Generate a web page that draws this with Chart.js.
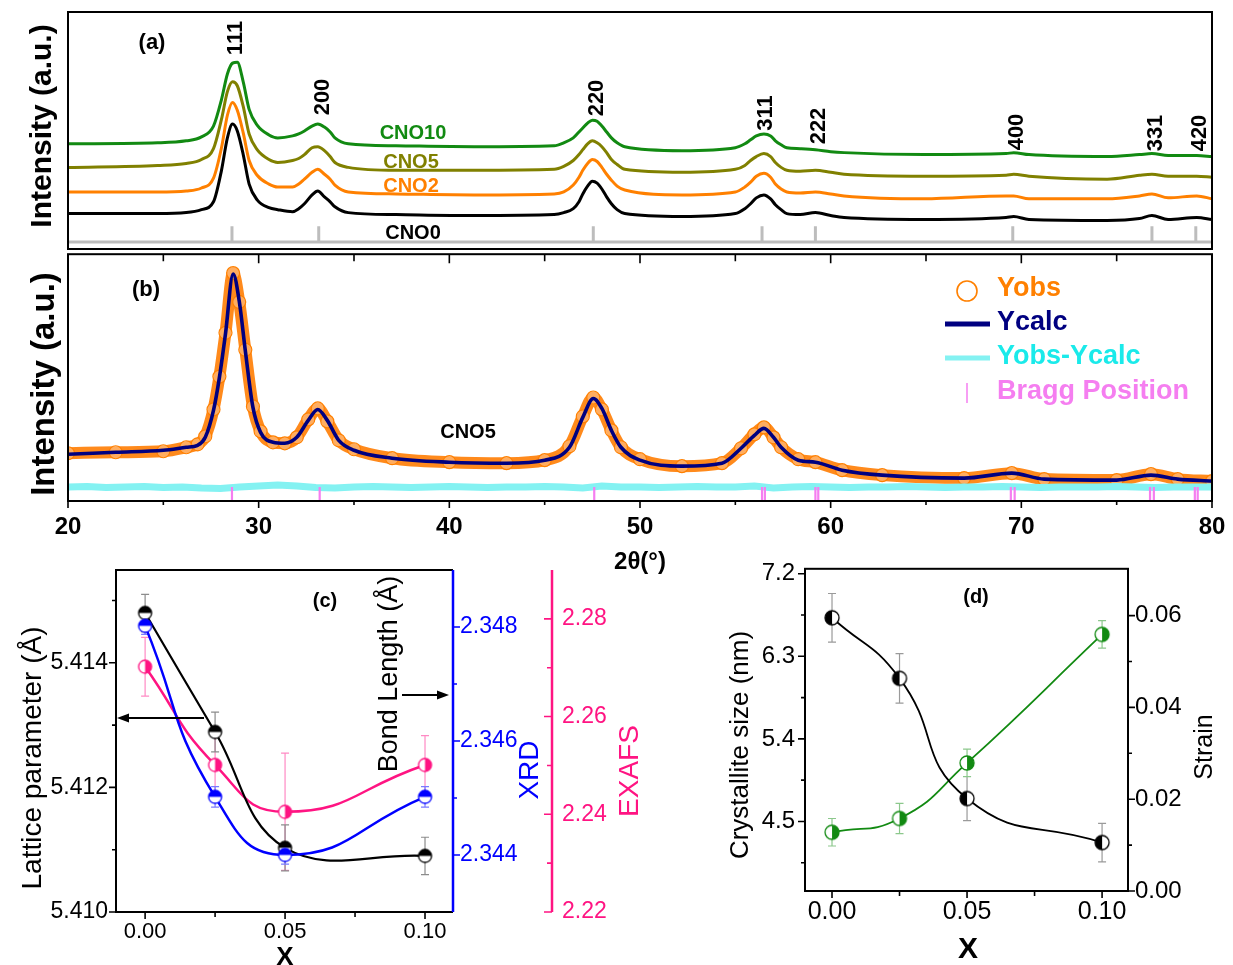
<!DOCTYPE html>
<html>
<head>
<meta charset="utf-8">
<title>CNO XRD / bond length / crystallite size</title>
<script src="https://cdn.jsdelivr.net/npm/chart.js@4.4.1/dist/chart.umd.min.js"></script>
<style>
  html, body { margin: 0; padding: 0; background: #fff; }
  #page { position: relative; width: 1233px; height: 965px; overflow: hidden; background: #fff; }
  #page canvas { position: absolute; }
</style>
</head>
<body>
<div id="page">
  <canvas id="cA" width="1233" height="260" style="left:0px;top:0px"></canvas>
  <canvas id="cB" width="1233" height="335" style="left:0px;top:245px"></canvas>
  <canvas id="cC" width="700" height="405" style="left:0px;top:560px"></canvas>
  <canvas id="cD" width="533" height="405" style="left:700px;top:560px"></canvas>
</div>
<script>
// ---------- (a) stacked XRD patterns (intensity, a.u.) ----------
const twoThetaA = [20, 24.7, 26.2, 27.0, 27.63, 28.05, 28.36, 28.63, 28.88, 29.19,
  29.5, 29.92, 30.54, 31.0, 31.78, 32.1, 32.4, 32.8, 33.1, 33.45,
  33.75, 34.0, 34.7, 37.2, 41.3, 45.5, 46.0, 46.5, 46.8, 47.0,
  47.25, 47.5, 47.75, 48.0, 48.25, 48.5, 48.8, 49.2, 52.2, 55.0,
  55.5, 55.8, 56.1, 56.5, 56.85, 57.1, 57.4, 57.7, 58.4, 59.2,
  60.0, 60.7, 64.9, 69.2, 69.6, 70.4, 74.5, 76.2, 76.85, 77.7,
  79.2, 80];
const cno0 = [36, 36, 37, 40, 48, 80, 113, 127, 120, 96,
  66, 50, 42, 40, 38, 41, 46, 55, 59, 53,
  48, 43, 37, 35, 34, 35, 37, 41, 48, 56,
  64, 69, 67, 61, 53, 46, 40, 36, 33, 36,
  41, 46, 52, 55, 51, 45, 40, 36, 35, 37,
  34, 32, 30, 32, 33, 30, 29, 31, 34, 30,
  32, 30];
const cno2 = [58, 58, 59, 62, 72, 103, 136, 149, 141, 118,
  90, 75, 66, 63, 63, 66, 71, 78, 81, 76,
  71, 65, 58, 56, 55, 56, 58, 65, 73, 80,
  87, 91, 89, 83, 76, 70, 64, 60, 55, 58,
  63, 68, 74, 77, 73, 66, 61, 58, 57, 58,
  56, 54, 51, 54, 54, 51, 51, 54, 56, 52,
  54, 51];
const cno5 = [83, 85, 87, 91, 102, 132, 160, 170, 166, 145,
  117, 101, 91, 88, 90, 92, 96, 103, 104, 100,
  94, 88, 83, 80, 80, 81, 84, 90, 96, 101,
  107, 110, 108, 104, 98, 91, 86, 81, 78, 81,
  85, 90, 94, 97, 94, 88, 83, 80, 79, 80,
  78, 76, 74, 75, 76, 74, 71, 75, 76, 74,
  74, 73];
const cno10 = [107, 108, 110, 114, 125, 152, 178, 189, 190, 170,
  142, 126, 116, 113, 115, 117, 120, 125, 127, 124,
  119, 113, 107, 105, 104, 105, 108, 113, 119, 123,
  128, 131, 130, 125, 119, 113, 108, 104, 100, 103,
  107, 111, 115, 117, 115, 110, 106, 103, 102, 101,
  99, 98, 96, 97, 98, 96, 94, 96, 97, 95,
  95, 94];
const braggA = [28.6, 33.15, 47.55, 56.4, 59.2, 69.55, 76.85, 79.15];
const hklLabels = ['111', '200', '220', '311', '222', '400', '331', '420'];
const sampleNames = ['CNO0', 'CNO2', 'CNO5', 'CNO10'];

// ---------- (b) Rietveld fit of CNO5 ----------
const twoThetaB = [20, 22.5, 25, 26.2, 26.8, 27.2, 27.63, 27.94, 28.26, 28.66,
  28.98, 29.3, 29.7, 30.1, 30.75, 31.37, 32.0, 32.6, 33.1, 33.6,
  34.2, 35, 37, 40, 43, 45, 46.3, 47.0, 47.55, 48.0,
  48.5, 49.0, 50, 52.2, 54.3, 55.3, 56.0, 56.5, 57.0, 57.4,
  58.3, 59.2, 60.6, 62.7, 67.0, 69.5, 71.2, 75.0, 76.8, 78.2,
  80];
const yCalc = [47, 49, 51, 54, 56, 64, 91, 124, 168, 228,
  201, 151, 94, 69, 59, 58, 64, 81, 92, 81,
  61, 51, 43, 39, 38, 41, 54, 84, 103, 93,
  71, 54, 41, 35, 38, 53, 66, 73, 64, 54,
  41, 39, 31, 26, 23, 28, 22, 21, 26, 22,
  20];
const yObs = [48, 49, 50, 54, 57, 65, 92, 125, 169, 229,
  200, 152, 95, 70, 59, 58, 64, 82, 93, 80,
  61, 52, 43, 39, 38, 41, 55, 85, 104, 92,
  71, 54, 42, 35, 38, 53, 67, 74, 64, 54,
  42, 39, 31, 26, 23, 28, 22, 21, 27, 22,
  20];
const diffTheta = [20, 21, 22, 23, 24, 25, 26, 27, 28, 29, 30, 31, 32, 33, 34, 35, 36, 37, 38, 39, 40,
  41, 42, 43, 44, 45, 46, 47, 48, 49, 50, 51, 52, 53, 54, 55, 56, 57, 58, 59, 60,
  61, 62, 63, 64, 65, 66, 67, 68, 69, 70, 71, 72, 73, 74, 75, 76, 77, 78, 79, 80];
const yDiff = [14, 14.5, 13.5, 14, 14.5, 13.5, 14, 13, 12.5, 14, 15, 16, 15, 13.5, 13, 14, 14.5, 14, 13.5, 14, 14.5,
  14, 13.5, 14, 14, 14.5, 14, 13, 15, 14, 14, 13.5, 14, 14.5, 14, 14, 15, 13, 14, 14.5, 14,
  13.5, 14, 14, 14.5, 14, 13.5, 14, 14, 14.5, 14, 13.5, 14, 14, 14, 14.5, 14, 13.5, 14, 14, 14];
const braggB = [28.6, 33.2, 47.6, 56.4, 56.55, 59.2, 59.35, 69.45, 69.65, 76.75, 76.95, 79.1, 79.25];
const ticksB = [20, 30, 40, 50, 60, 70, 80];
const minorB = [25, 35, 45, 55, 65, 75];

// ---------- (c) lattice parameter and bond length ----------
const xC = [0, 0.025, 0.05, 0.10];
const latticeParam = [5.4148, 5.41289, 5.41103, 5.4109];
const latticeErr = [0.0003, 0.00032, 0.00037, 0.0003];
const bondXRD = [2.34802, 2.34502, 2.34400, 2.34502];
const bondXRDErr = [0.00015, 0.00018, 0.00016, 0.00018];
const bondEXAFS = [2.2702, 2.2501, 2.2405, 2.2501];
const bondEXAFSErr = [0.006, 0.006, 0.012, 0.006];
const ticksCX = [0, 0.05, 0.10];
const minorCX = [0.025, 0.075];
const ticksLattice = [5.410, 5.412, 5.414];
const minorLattice = [5.411, 5.413, 5.415];
const ticksXRD = [2.344, 2.346, 2.348];
const minorXRD = [2.345, 2.347];
const ticksEXAFS = [2.22, 2.24, 2.26, 2.28];
const minorEXAFS = [2.23, 2.25, 2.27];

// ---------- (d) crystallite size and strain ----------
const xD = [0, 0.025, 0.05, 0.10];
const crystalliteSize = [6.72, 6.06, 4.75, 4.27];
const sizeErr = [0.265, 0.27, 0.24, 0.21];
const strain = [0.0128, 0.0158, 0.0279, 0.0559];
const strainErr = [0.003, 0.0033, 0.003, 0.003];
const ticksDX = [0, 0.05, 0.10];
const minorDX = [0.025, 0.075];
const ticksSize = [4.5, 5.4, 6.3, 7.2];
const minorSize = [4.05, 4.95, 5.85, 6.75];
const ticksStrain = [0, 0.02, 0.04, 0.06];
const minorStrain = [0.01, 0.03, 0.05];

// ---------- shared helpers ----------
const FONT = "'Liberation Sans', Arial, Helvetica, sans-serif";
const GREEN = '#128a12', OLIVE = '#808000', ORANGE = '#ff8000', NAVY = '#000080';
const BLUE = '#0000ff', PINK = '#ff1482', VIOLET = '#f57ef0', CYAN = '#84f2f2';

Chart.defaults.font.family = FONT;
Chart.defaults.color = '#000';
Chart.defaults.animation = false;
Chart.defaults.plugins.legend.display = false;
Chart.defaults.plugins.tooltip.enabled = false;

const pts = (xs, ys) => xs.map((x, i) => ({ x: x, y: ys[i] }));
const setTicks = vals => s => { s.ticks = vals.map(v => ({ value: v })); };
const noPad = s => { s.paddingTop = 0; s.paddingBottom = 0; s.paddingLeft = 0; s.paddingRight = 0; };
const fixWidth = w => s => { s.width = w; noPad(s); };
const fixHeight = h => s => { s.height = h; noPad(s); };

function text(ctx, str, x, y, font, color, vertical, align) {
  ctx.save();
  ctx.font = font;
  ctx.fillStyle = color;
  ctx.textAlign = align || 'center';
  ctx.textBaseline = 'middle';
  ctx.translate(x, y);
  if (vertical) ctx.rotate(-Math.PI / 2);
  ctx.fillText(str, 0, 0);
  ctx.restore();
}

function xTicks(ctx, scale, values, y, len, color) {
  ctx.save();
  ctx.strokeStyle = color; ctx.lineWidth = 1.6;
  ctx.beginPath();
  values.forEach(v => { const x = scale.getPixelForValue(v); ctx.moveTo(x, y); ctx.lineTo(x, y + len); });
  ctx.stroke();
  ctx.restore();
}

function yTicks(ctx, scale, values, x, len, color) {
  ctx.save();
  ctx.strokeStyle = color; ctx.lineWidth = 1.6;
  ctx.beginPath();
  values.forEach(v => { const y = scale.getPixelForValue(v); ctx.moveTo(x, y); ctx.lineTo(x + len, y); });
  ctx.stroke();
  ctx.restore();
}

function errorBars(ctx, xs, ys, errs, xs_, ys_, color) {
  ctx.save();
  ctx.strokeStyle = color; ctx.lineWidth = 1.2;
  xs.forEach((xv, i) => {
    const px = xs_.getPixelForValue(xv);
    const top = ys_.getPixelForValue(ys[i] + errs[i]);
    const bot = ys_.getPixelForValue(ys[i] - errs[i]);
    ctx.beginPath();
    ctx.moveTo(px, top); ctx.lineTo(px, bot);
    ctx.moveTo(px - 4, top); ctx.lineTo(px + 4, top);
    ctx.moveTo(px - 4, bot); ctx.lineTo(px + 4, bot);
    ctx.stroke();
  });
  ctx.restore();
}

function arrow(ctx, x1, y, x2) {
  const dir = Math.sign(x2 - x1);
  ctx.save();
  ctx.strokeStyle = '#000'; ctx.fillStyle = '#000'; ctx.lineWidth = 2;
  ctx.beginPath(); ctx.moveTo(x1, y); ctx.lineTo(x2 - dir * 6, y); ctx.stroke();
  ctx.beginPath(); ctx.moveTo(x2, y); ctx.lineTo(x2 - dir * 12, y - 4.5); ctx.lineTo(x2 - dir * 12, y + 4.5); ctx.closePath(); ctx.fill();
  ctx.restore();
}

// half filled circle used as point style
function halfMarker(color, side, r) {
  const c = document.createElement('canvas');
  const s = Math.ceil(2 * r + 4);
  c.width = s; c.height = s;
  const g = c.getContext('2d');
  const m = s / 2;
  g.beginPath(); g.arc(m, m, r, 0, Math.PI * 2); g.fillStyle = '#fff'; g.fill();
  g.save();
  g.beginPath(); g.arc(m, m, r, 0, Math.PI * 2); g.clip();
  g.fillStyle = color;
  if (side === 'top') g.fillRect(0, 0, s, m);
  else if (side === 'left') g.fillRect(0, 0, m, s);
  else g.fillRect(m, 0, s - m, s);
  g.restore();
  g.beginPath(); g.arc(m, m, r, 0, Math.PI * 2); g.strokeStyle = color; g.lineWidth = 1.3; g.stroke();
  return c;
}

function xrdLine(xs, ys, color, width) {
  return {
    data: pts(xs, ys), borderColor: color, borderWidth: width || 3,
    pointRadius: 0, cubicInterpolationMode: 'monotone', showLine: true
  };
}

// ---------- panel (a) ----------
const panelA = {
  id: 'panelA',
  afterDraw(chart) {
    const { ctx, chartArea: a, scales } = chart;
    ctx.save();
    ctx.strokeStyle = '#000'; ctx.lineWidth = 2;
    ctx.strokeRect(a.left, a.top, a.right - a.left, a.bottom - a.top);
    ctx.restore();
    text(ctx, 'Intensity (a.u.)', 43, 126, 'bold 30px ' + FONT, '#000', true);
    text(ctx, '(a)', 152, 43, 'bold 22px ' + FONT, '#000');
    const hklY = [38, 97, 98, 113, 126, 132, 133, 133];
    hklLabels.forEach((t, i) => {
      text(ctx, t, scales.x.getPixelForValue(braggA[i]) + 4, hklY[i], 'bold 22px ' + FONT, '#000', true);
    });
    text(ctx, sampleNames[3], 413, 133, 'bold 20px ' + FONT, GREEN);
    text(ctx, sampleNames[2], 411, 162, 'bold 20px ' + FONT, OLIVE);
    text(ctx, sampleNames[1], 411, 186, 'bold 20px ' + FONT, ORANGE);
    text(ctx, sampleNames[0], 413, 233, 'bold 20px ' + FONT, '#000');
  }
};

new Chart(document.getElementById('cA'), {
  type: 'line',
  data: {
    datasets: [
      xrdLine(twoThetaA, cno0, '#000000'),
      xrdLine(twoThetaA, cno2, ORANGE),
      xrdLine(twoThetaA, cno5, OLIVE),
      xrdLine(twoThetaA, cno10, GREEN),
      { data: [{ x: 20, y: 7 }, { x: 80, y: 7 }], borderColor: '#bdbdbd', borderWidth: 3, pointRadius: 0 },
      { data: braggA.map(v => ({ x: v, y: 15 })), showLine: false, pointStyle: 'line', pointRotation: 90,
        pointRadius: 8, pointBorderWidth: 3, pointBorderColor: '#bdbdbd', borderColor: '#bdbdbd' }
    ]
  },
  options: {
    responsive: false,
    layout: { padding: { left: 68, right: 21, top: 12, bottom: 7 } },
    scales: {
      x: { type: 'linear', min: 20, max: 80, display: false },
      y: { min: 0, max: 241, display: false }
    }
  },
  plugins: [panelA]
});

// ---------- panel (b) ----------
const panelB = {
  id: 'panelB',
  afterDraw(chart) {
    const { ctx, chartArea: a, scales } = chart;
    ctx.save();
    ctx.strokeStyle = '#000'; ctx.lineWidth = 2;
    ctx.strokeRect(a.left, a.top, a.right - a.left, a.bottom - a.top);
    ctx.restore();
    xTicks(ctx, scales.x, ticksB, a.bottom, 7, '#000');
    xTicks(ctx, scales.x, minorB, a.bottom, 4, '#000');
    xTicks(ctx, scales.x, ticksB, a.top, 9, '#000');
    xTicks(ctx, scales.x, minorB, a.top, 7, '#000');
    text(ctx, 'Intensity (a.u.)', 45, 139, 'bold 33px ' + FONT, '#000', true);
    text(ctx, '(b)', 146, 45, 'bold 22px ' + FONT, '#000');
    text(ctx, 'CNO5', 468, 187, 'bold 20px ' + FONT, '#000');
    // legend
    const lf = 'bold 27px ' + FONT;
    ctx.save();
    ctx.strokeStyle = ORANGE; ctx.lineWidth = 1.6;
    ctx.beginPath(); ctx.arc(967, 46, 10, 0, Math.PI * 2); ctx.stroke();
    ctx.lineCap = 'butt';
    ctx.strokeStyle = NAVY; ctx.lineWidth = 5;
    ctx.beginPath(); ctx.moveTo(945, 79); ctx.lineTo(990, 79); ctx.stroke();
    ctx.strokeStyle = CYAN; ctx.lineWidth = 5;
    ctx.beginPath(); ctx.moveTo(945, 113); ctx.lineTo(990, 113); ctx.stroke();
    ctx.strokeStyle = VIOLET; ctx.lineWidth = 1.5;
    ctx.beginPath(); ctx.moveTo(967, 138); ctx.lineTo(967, 158); ctx.stroke();
    ctx.restore();
    text(ctx, 'Yobs', 997, 44, lf, ORANGE, false, 'left');
    text(ctx, 'Ycalc', 997, 78, lf, NAVY, false, 'left');
    text(ctx, 'Yobs-Ycalc', 997, 112, lf, '#1aeaea', false, 'left');
    text(ctx, 'Bragg Position', 997, 147, lf, VIOLET, false, 'left');
  }
};

new Chart(document.getElementById('cB'), {
  type: 'line',
  data: {
    datasets: [
      Object.assign(xrdLine(twoThetaB, yCalc, NAVY, 3.6), { order: 0 }),
      { data: braggB.map(v => ({ x: v, y: 7 })), showLine: false, pointStyle: 'line', pointRotation: 90,
        pointRadius: 7, pointBorderWidth: 2.2, pointBorderColor: VIOLET, borderColor: VIOLET, order: 0 },
      { data: pts(diffTheta, yDiff), borderColor: CYAN, borderWidth: 7, pointRadius: 0, tension: 0, order: 1 },
      Object.assign(xrdLine(twoThetaB, yObs, '#ff8a1c', 12), {
        pointRadius: 6.5, pointStyle: 'circle', pointBackgroundColor: 'rgba(255,255,255,0.3)',
        pointBorderColor: ORANGE, pointBorderWidth: 1.2, order: 2
      })
    ]
  },
  options: {
    responsive: false,
    layout: { padding: { left: 68, right: 21, top: 8, bottom: 0 } },
    scales: {
      x: {
        type: 'linear', min: 20, max: 80,
        afterBuildTicks: setTicks(ticksB), afterFit: fixHeight(79),
        grid: { display: false, drawTicks: false }, border: { display: false },
        ticks: { padding: 12, autoSkip: false, maxRotation: 0, color: '#000', font: { size: 24, weight: 'bold' } },
        title: { display: true, text: '2θ(°)', color: '#000', font: { size: 24, weight: 'bold' }, padding: { top: 0, bottom: 3 } }
      },
      y: { min: 0, max: 248, display: false }
    }
  },
  plugins: [panelB]
});

// ---------- panel (c) ----------
const panelC = {
  id: 'panelC',
  beforeDatasetsDraw(chart) {
    const { ctx, scales } = chart;
    errorBars(ctx, xC, bondEXAFS, bondEXAFSErr, scales.x, scales.y3, '#ff8ac4');
    errorBars(ctx, xC, latticeParam, latticeErr, scales.x, scales.y, '#8c8c8c');
    errorBars(ctx, xC, bondXRD, bondXRDErr, scales.x, scales.y2, '#7a7aff');
  },
  afterDraw(chart) {
    const { ctx, chartArea: a, scales } = chart;
    const px = scales.y3.left;
    ctx.save();
    ctx.strokeStyle = '#000'; ctx.lineWidth = 2;
    ctx.beginPath();
    ctx.moveTo(a.right, a.top); ctx.lineTo(a.left, a.top); ctx.lineTo(a.left, a.bottom); ctx.lineTo(a.right, a.bottom);
    ctx.stroke();
    ctx.strokeStyle = BLUE; ctx.lineWidth = 2.5;
    ctx.beginPath(); ctx.moveTo(a.right, a.top); ctx.lineTo(a.right, a.bottom); ctx.stroke();
    ctx.strokeStyle = PINK;
    ctx.beginPath(); ctx.moveTo(px, a.top); ctx.lineTo(px, a.bottom); ctx.stroke();
    ctx.restore();
    yTicks(ctx, scales.y, ticksLattice, a.left, -7, '#000');
    yTicks(ctx, scales.y, minorLattice, a.left, -4, '#000');
    yTicks(ctx, scales.y2, ticksXRD, a.right, 7, BLUE);
    yTicks(ctx, scales.y2, minorXRD, a.right, 4, BLUE);
    yTicks(ctx, scales.y3, ticksEXAFS, px, -8, PINK);
    yTicks(ctx, scales.y3, minorEXAFS, px, -5, PINK);
    xTicks(ctx, scales.x, ticksCX, a.bottom, 7, '#000');
    xTicks(ctx, scales.x, minorCX, a.bottom, 5, '#000');
    text(ctx, 'Lattice parameter (Å)', 33, 198, '28px ' + FONT, '#000', true);
    text(ctx, 'Bond Length (Å)', 390, 114, '27px ' + FONT, '#000', true);
    text(ctx, 'XRD', 530, 210, '28px ' + FONT, BLUE, true);
    text(ctx, 'EXAFS', 630, 211, '28px ' + FONT, PINK, true);
    text(ctx, '(c)', 325, 41, 'bold 20px ' + FONT, '#000');
    text(ctx, 'X', 285, 398, 'bold 26px ' + FONT, '#000');
    arrow(ctx, 204, 158, 117);
    arrow(ctx, 402, 135, 449);
  }
};

new Chart(document.getElementById('cC'), {
  type: 'line',
  data: {
    datasets: [
      { data: pts(xC, bondXRD), yAxisID: 'y2', borderColor: BLUE, borderWidth: 2.5, tension: 0.5,
        pointStyle: halfMarker(BLUE, 'top', 6.5), pointRadius: 7 },
      { data: pts(xC, latticeParam), yAxisID: 'y', borderColor: '#000', borderWidth: 2.2, tension: 0.4,
        pointStyle: halfMarker('#000', 'top', 6.5), pointRadius: 7 },
      { data: pts(xC, bondEXAFS), yAxisID: 'y3', borderColor: PINK, borderWidth: 2.5, tension: 0.5,
        pointStyle: halfMarker(PINK, 'right', 6.5), pointRadius: 7 }
    ]
  },
  options: {
    responsive: false,
    layout: { padding: { left: 0, right: 0, top: 10, bottom: 0 } },
    scales: {
      x: {
        type: 'linear', min: -0.0104, max: 0.11,
        afterBuildTicks: setTicks(ticksCX), afterFit: fixHeight(53),
        grid: { display: false, drawTicks: false }, border: { display: false },
        ticks: { padding: 7, autoSkip: false, maxRotation: 0, font: { size: 22 }, callback: v => v.toFixed(2) }
      },
      y: {
        position: 'left', min: 5.41, max: 5.41549,
        afterBuildTicks: setTicks(ticksLattice), afterFit: fixWidth(116),
        grid: { display: false, drawTicks: false }, border: { display: false },
        ticks: { padding: 8, font: { size: 23 }, callback: v => v.toFixed(3) }
      },
      y2: {
        position: 'right', weight: 0, min: 2.343, max: 2.349,
        afterBuildTicks: setTicks(ticksXRD), afterFit: fixWidth(99),
        grid: { display: false, drawTicks: false }, border: { display: false },
        ticks: { padding: 7, color: BLUE, font: { size: 23 }, callback: v => v.toFixed(3) }
      },
      y3: {
        position: 'right', weight: 1, min: 2.22, max: 2.29,
        afterBuildTicks: setTicks(ticksEXAFS), afterFit: fixWidth(148),
        grid: { display: false, drawTicks: false }, border: { display: false },
        ticks: { padding: 10, color: PINK, font: { size: 23 }, callback: v => v.toFixed(2) }
      }
    }
  },
  plugins: [panelC]
});

// ---------- panel (d) ----------
const panelD = {
  id: 'panelD',
  beforeDatasetsDraw(chart) {
    const { ctx, scales } = chart;
    errorBars(ctx, xD, crystalliteSize, sizeErr, scales.x, scales.y, '#9a9a9a');
    errorBars(ctx, xD, strain, strainErr, scales.x, scales.y2, '#8cc88c');
  },
  afterDraw(chart) {
    const { ctx, chartArea: a, scales } = chart;
    ctx.save();
    ctx.strokeStyle = '#000'; ctx.lineWidth = 2;
    ctx.strokeRect(a.left, a.top, a.right - a.left, a.bottom - a.top);
    ctx.restore();
    yTicks(ctx, scales.y, ticksSize, a.left, -7, '#000');
    yTicks(ctx, scales.y, minorSize, a.left, -4, '#000');
    yTicks(ctx, scales.y2, ticksStrain, a.right, 7, '#000');
    yTicks(ctx, scales.y2, minorStrain, a.right, 4, '#000');
    xTicks(ctx, scales.x, ticksDX, a.bottom, 7, '#000');
    xTicks(ctx, scales.x, minorDX, a.bottom, 5, '#000');
    text(ctx, 'Crystallite size (nm)', 41, 185, '26px ' + FONT, '#000', true);
    text(ctx, 'Strain', 505, 187, '25px ' + FONT, '#000', true);
    text(ctx, '(d)', 276, 37, 'bold 20px ' + FONT, '#000');
    text(ctx, 'X', 268, 390, 'bold 30px ' + FONT, '#000');
  }
};

new Chart(document.getElementById('cD'), {
  type: 'line',
  data: {
    datasets: [
      { data: pts(xD, crystalliteSize), yAxisID: 'y', borderColor: '#000', borderWidth: 1.8, tension: 0.5,
        pointStyle: halfMarker('#000', 'left', 7), pointRadius: 7 },
      { data: pts(xD, strain), yAxisID: 'y2', borderColor: GREEN, borderWidth: 1.8, tension: 0.5,
        pointStyle: halfMarker(GREEN, 'right', 7), pointRadius: 7 }
    ]
  },
  options: {
    responsive: false,
    layout: { padding: { left: 0, right: 0, top: 7, bottom: 0 } },
    scales: {
      x: {
        type: 'linear', min: -0.01, max: 0.1096,
        afterBuildTicks: setTicks(ticksDX), afterFit: fixHeight(74),
        grid: { display: false, drawTicks: false }, border: { display: false },
        ticks: { padding: 6, autoSkip: false, maxRotation: 0, font: { size: 25 }, callback: v => v.toFixed(2) }
      },
      y: {
        position: 'left', min: 3.742, max: 7.254,
        afterBuildTicks: setTicks(ticksSize), afterFit: fixWidth(105),
        grid: { display: false, drawTicks: false }, border: { display: false },
        ticks: { padding: 10, font: { size: 24 }, callback: v => v.toFixed(1) }
      },
      y2: {
        position: 'right', min: 0, max: 0.0702,
        afterBuildTicks: setTicks(ticksStrain), afterFit: fixWidth(105),
        grid: { display: false, drawTicks: false }, border: { display: false },
        ticks: { padding: 7, font: { size: 24 }, callback: v => v.toFixed(2) }
      }
    }
  },
  plugins: [panelD]
});
</script>
</body>
</html>
